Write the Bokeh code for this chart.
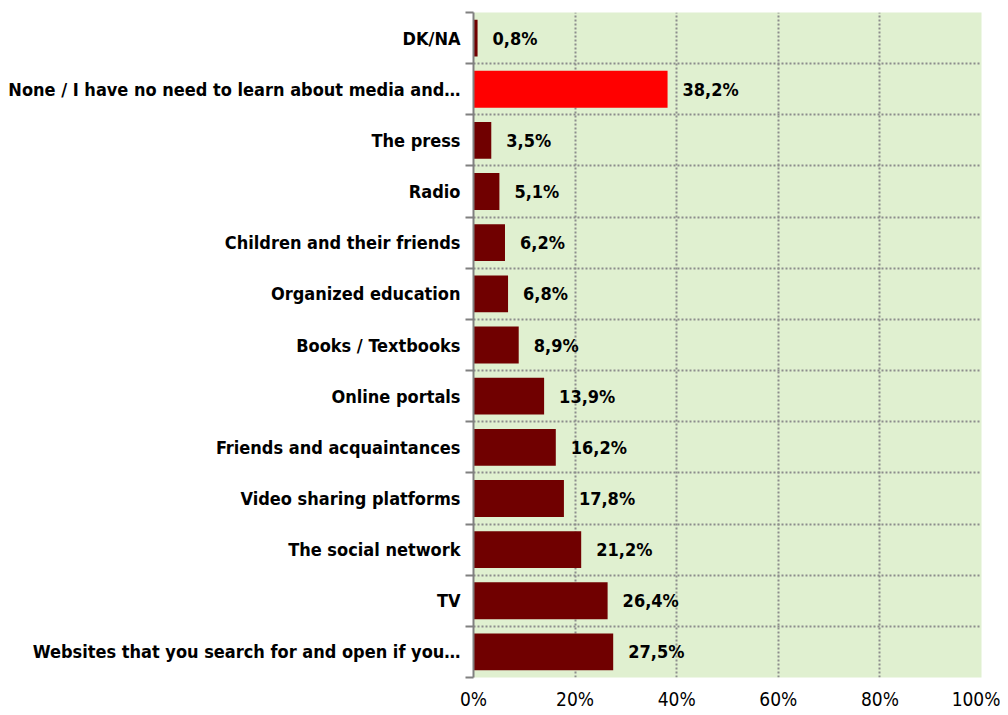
from bokeh.plotting import figure
from bokeh.models import ColumnDataSource, Range1d, FixedTicker, PrintfTickFormatter
from bokeh.core.properties import value
from bokeh.embed import file_html
from bokeh.resources import INLINE

# Data (top to bottom as shown)
categories = [
    "DK/NA",
    "None / I have no need to learn about media and\u2026",
    "The press",
    "Radio",
    "Children and their friends",
    "Organized education",
    "Books / Textbooks",
    "Online portals",
    "Friends and acquaintances",
    "Video sharing platforms",
    "The social network",
    "TV",
    "Websites that you search for and open if you\u2026",
]
values = [0.8, 38.2, 3.5, 5.1, 6.2, 6.8, 8.9, 13.9, 16.2, 17.8, 21.2, 26.4, 27.5]
highlight = "None / I have no need to learn about media and\u2026"
x_ticks = [0, 20, 40, 60, 80, 100]

FONT = "'DejaVu Sans Condensed', 'Liberation Sans', sans-serif"
n = len(categories)
ys = [n - i - 0.5 for i in range(n)]
colors = ["#FF0000" if c == highlight else "#700000" for c in categories]
labels = [f"{v:.1f}".replace(".", ",") + "%" for v in values]

src = ColumnDataSource(dict(y=ys, v=values, color=colors, label=labels, cat=categories))

p = figure(width=1000, height=712, output_backend="svg", toolbar_location=None,
           x_range=Range1d(0, 100), y_range=Range1d(0, n),
           min_border_left=473, min_border_right=19, min_border_top=12, min_border_bottom=35)
p.background_fill_color = "#E0F0D0"
p.border_fill_color = "white"
p.outline_line_color = None

p.hbar(y="y", left=0, right="v", height=0.72, color="color", line_color=None, source=src)
p.text(x="v", y="y", text="label", source=src, x_offset=15, text_baseline="middle",
       text_align="left", text_font=value(FONT), text_font_style="bold",
       text_font_size="18px", text_color="black")

# x axis
p.xaxis.ticker = FixedTicker(ticks=x_ticks)
p.xaxis.formatter = PrintfTickFormatter(format="%d%%")
p.xaxis.axis_line_color = None
p.xaxis.major_tick_line_color = None
p.xaxis.minor_tick_line_color = None
p.xaxis.major_tick_out = 0
p.xaxis.major_tick_in = 0
p.xaxis.major_label_standoff = 10
p.xaxis.major_label_text_font = FONT
p.xaxis.major_label_text_font_size = "19px"
p.xaxis.major_label_text_color = "black"

# y axis: labels at band centres, tick marks at band boundaries
bounds = list(range(n + 1))
p.yaxis.ticker = FixedTicker(ticks=ys, minor_ticks=bounds)
p.yaxis.major_label_overrides = {y: c for y, c in zip(ys, categories)}
p.yaxis.major_tick_out = 0
p.yaxis.major_tick_in = 0
p.yaxis.minor_tick_out = 8
p.yaxis.minor_tick_in = 0
p.yaxis.minor_tick_line_color = "#808080"
p.yaxis.minor_tick_line_width = 2
p.yaxis.axis_line_color = "#808080"
p.yaxis.axis_line_width = 2
p.yaxis.major_label_standoff = 5
p.yaxis.major_label_text_font = FONT
p.yaxis.major_label_text_font_style = "bold"
p.yaxis.major_label_text_font_size = "18px"
p.yaxis.major_label_text_color = "black"

# grids
p.xgrid.ticker = FixedTicker(ticks=x_ticks)
p.xgrid.grid_line_color = "#8C8C8C"
p.xgrid.grid_line_dash = "2 2"
p.xgrid.grid_line_width = 2
p.ygrid.ticker = FixedTicker(ticks=bounds)
p.ygrid.grid_line_color = "#8C8C8C"
p.ygrid.grid_line_dash = "2 2"
p.ygrid.grid_line_width = 2

open("out.html", "w").write(file_html(p, INLINE))
